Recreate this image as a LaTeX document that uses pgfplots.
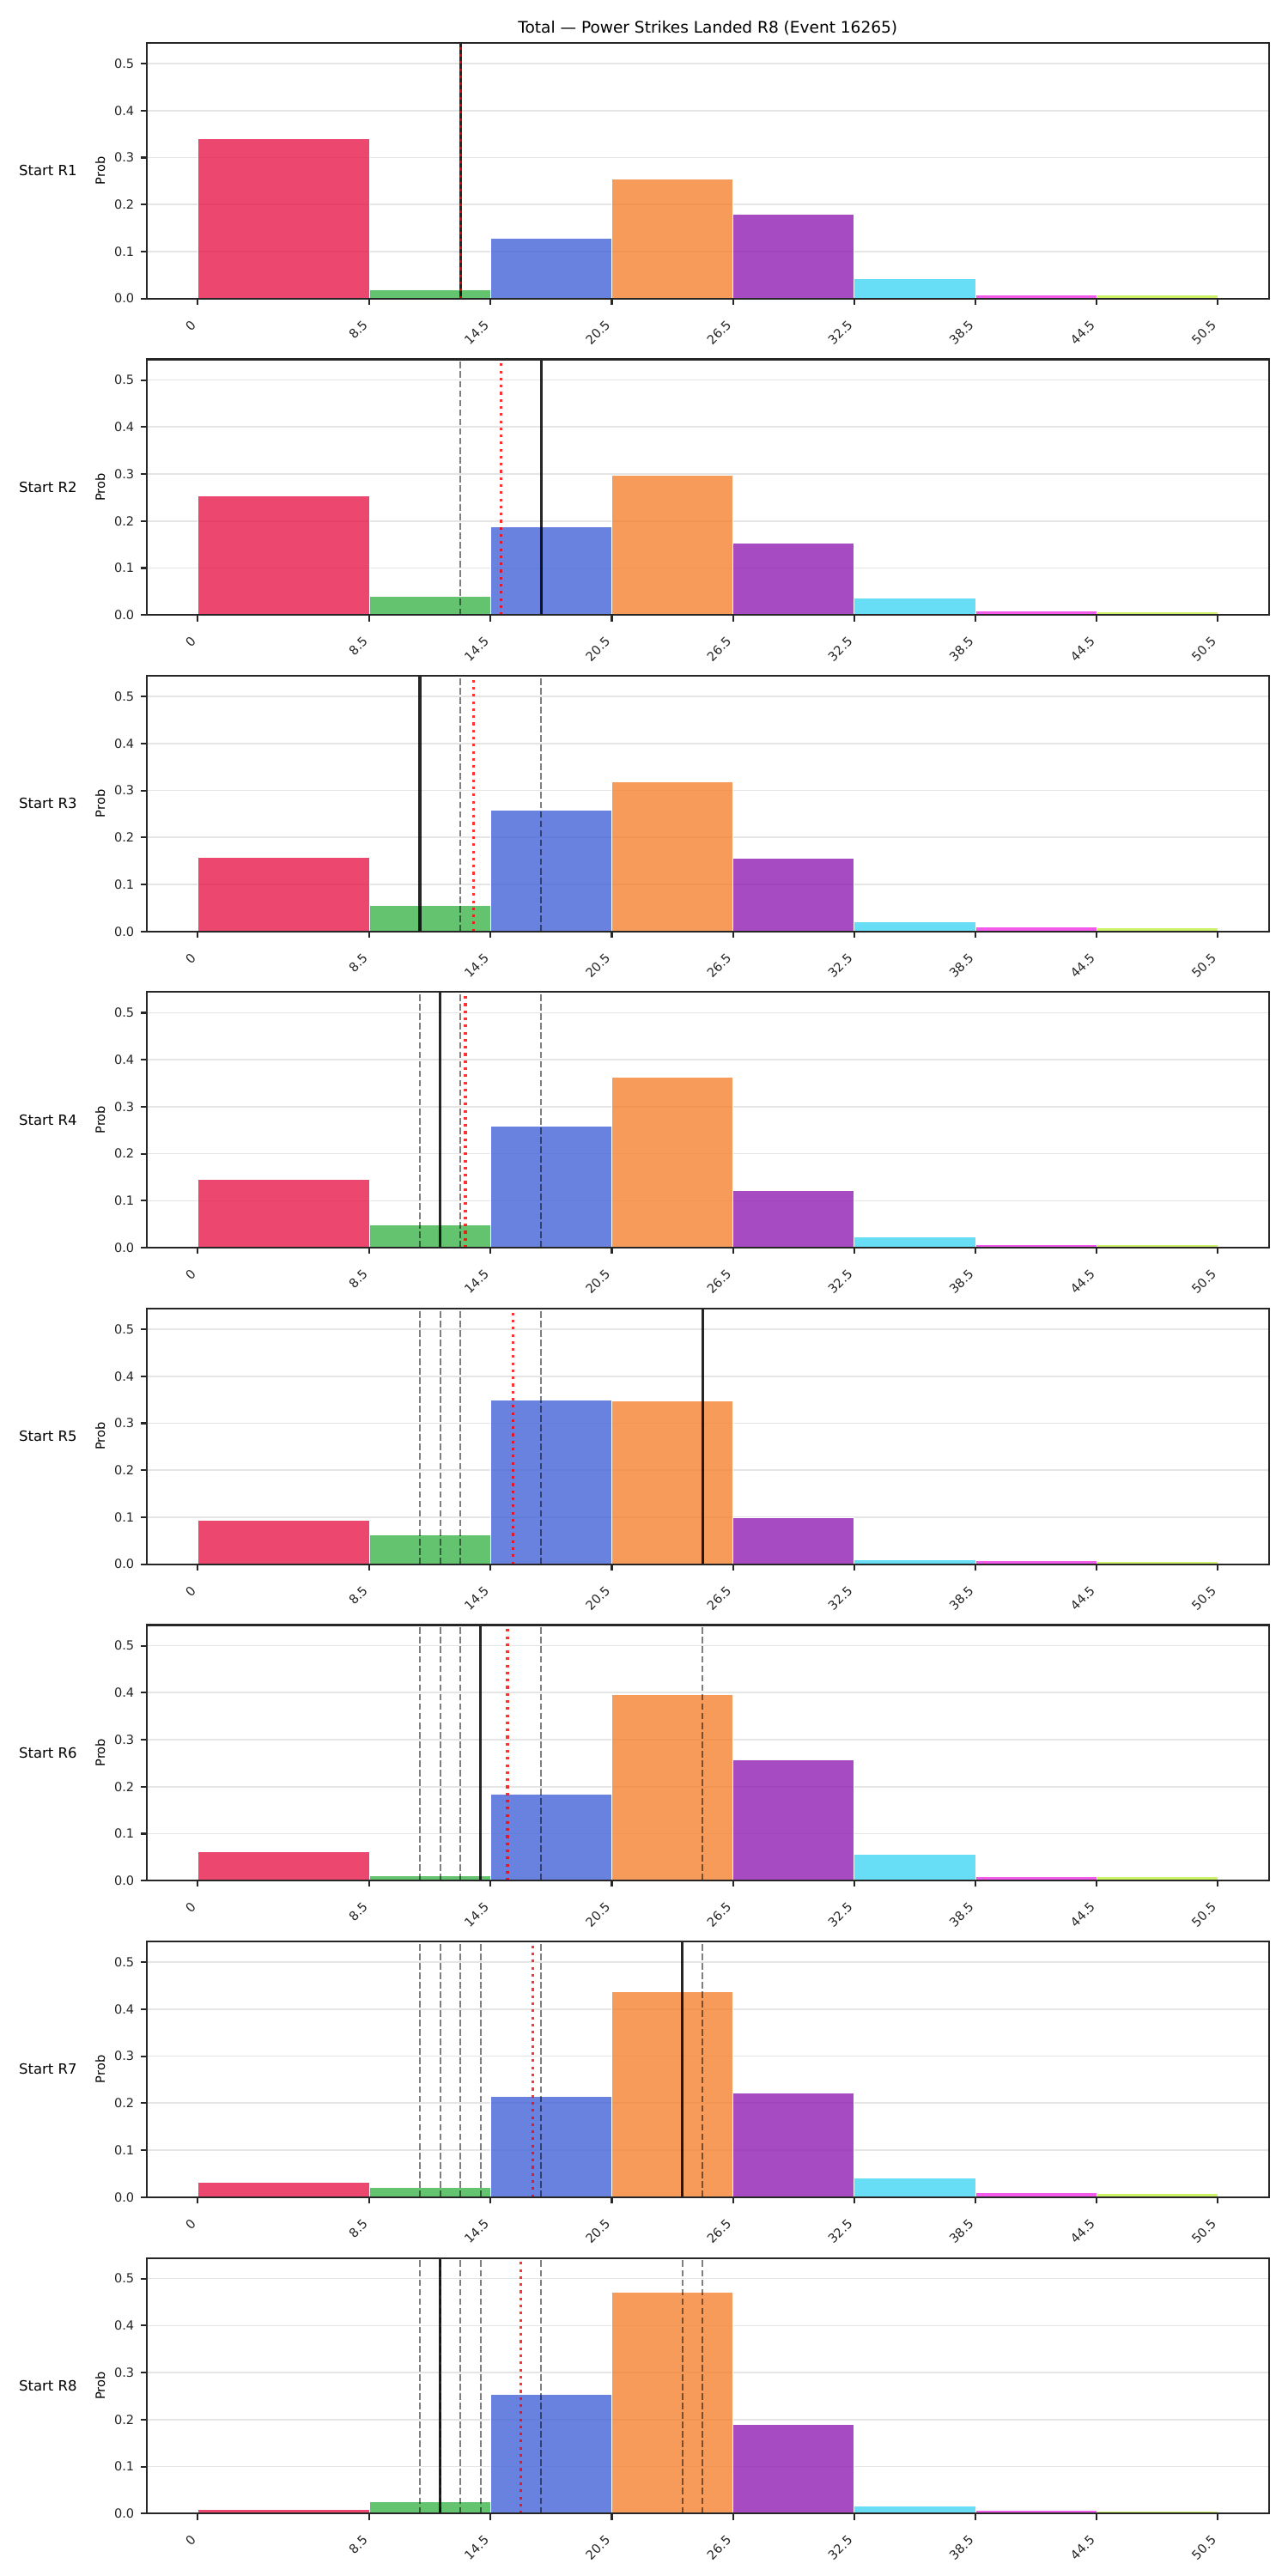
\documentclass[border=0pt]{standalone}
\usepackage{fontspec}
\setmainfont{DejaVu Sans}
\usepackage{pgfplots}
\pgfplotsset{compat=1.18}

% bin colours (bars are drawn with 80% fill opacity)
\definecolor{cRed}{RGB}{230,25,75}
\definecolor{cGreen}{RGB}{60,180,75}
\definecolor{cBlue}{RGB}{67,99,216}
\definecolor{cOrange}{RGB}{245,130,49}
\definecolor{cPurple}{RGB}{145,30,180}
\definecolor{cCyan}{RGB}{66,212,244}
\definecolor{cMagenta}{RGB}{240,50,230}
\definecolor{cLime}{RGB}{191,239,69}

\pgfkeys{/pgf/number format/assume math mode=true}

% grid below the bars, spines and ticks above them
\pgfplotsset{
  layers/gridbelow/.define layer set={
    axis background,axis grid,main,axis ticks,axis lines,axis tick labels,axis descriptions,axis foreground
  }{
    grid style={/pgfplots/on layer=axis grid},
    tick style={/pgfplots/on layer=axis ticks},
    axis line style={/pgfplots/on layer=axis lines},
    label style={/pgfplots/on layer=axis descriptions},
    legend style={/pgfplots/on layer=axis descriptions},
    title style={/pgfplots/on layer=axis descriptions},
    colorbar style={/pgfplots/on layer=axis descriptions},
    ticklabel style={/pgfplots/on layer=axis tick labels},
    axis background@ style={/pgfplots/on layer=axis background},
    3d box foreground style={/pgfplots/on layer=axis foreground},
  },
  panel/.style={
    set layers=gridbelow,
    clip mode=individual,
    scale only axis,
    width=627.3bp, height=142.9bp,
    anchor=south west,
    xmin=-2.525, xmax=53.025,
    ymin=0, ymax=0.544,
    xtick={0,8.5,14.5,20.5,26.5,32.5,38.5,44.5,50.5},
    xticklabels={0,8.5,14.5,20.5,26.5,32.5,38.5,44.5,50.5},
    ytick={0,0.1,0.2,0.3,0.4,0.5},
    yticklabel style={/pgf/number format/.cd,fixed,fixed zerofill,precision=1,/tikz/.cd},
    tick label style={font=\fontsize{7bp}{8bp}\selectfont, color=black!85},
    xticklabel style={rotate=45, anchor=east, inner sep=0pt, outer xsep=3.46bp, outer ysep=0pt,
      text height=0.76em, text depth=0.23em},
    xticklabel shift=7.5bp,
    tick pos=left,
    tick align=outside,
    major tick length=3.5bp,
    tick style={black!85, line width=1bp},
    axis line style={black!85, line width=1bp},
    ymajorgrids,
    major grid style={color=black!10, line width=0.8bp},
    ylabel={Prob},
    ylabel style={font=\fontsize{7bp}{8bp}\selectfont, at={(axis description cs:-0.0415,0.5)}, anchor=center},
  },
}

% one histogram bin: colour, lower edge, upper edge, probability
\newcommand{\bin}[4]{%
  \addplot[draw=white, line width=0.4bp, fill=#1, fill opacity=0.8]
    coordinates {(#2,0) (#2,#4) (#3,#4) (#3,0)} -- cycle;}
% the eight bins of one panel
\newcommand{\bars}[8]{%
  \bin{cRed}{0}{8.5}{#1}%
  \bin{cGreen}{8.5}{14.5}{#2}%
  \bin{cBlue}{14.5}{20.5}{#3}%
  \bin{cOrange}{20.5}{26.5}{#4}%
  \bin{cPurple}{26.5}{32.5}{#5}%
  \bin{cCyan}{32.5}{38.5}{#6}%
  \bin{cMagenta}{38.5}{44.5}{#7}%
  \bin{cLime}{44.5}{50.5}{#8}}
% earlier rounds (dashed), this round (solid), running mean (dotted)
\newcommand{\prev}[1]{\addplot[black, opacity=0.5, line width=1bp, dash pattern=on 3.7bp off 1.6bp] coordinates {(#1,0) (#1,0.544)};}
\newcommand{\actual}[1]{\addplot[black, opacity=0.85, line width=1.5bp] coordinates {(#1,0) (#1,0.544)};}
\newcommand{\avg}[1]{\addplot[red, opacity=0.8, line width=1.5bp, dash pattern=on 1.5bp off 2.475bp] coordinates {(#1,0) (#1,0.544)};}
\newcommand{\rowlabel}[1]{\node[anchor=east, inner sep=0pt, xshift=-38.8bp, font=\fontsize{7.9bp}{9bp}\selectfont] at (axis description cs:0,0.5) {#1};}

\begin{document}
\begin{tikzpicture}
\path (0,0) rectangle (720bp,1440bp);

\begin{axis}[panel, at={(82bp,1273.1bp)},
  title={Total — Power Strikes Landed R8 (Event 16265)},
  every axis title/.style={font=\fontsize{8.9bp}{10bp}\selectfont, at={(axis description cs:0.5,1)}, anchor=base, yshift=5.6bp}]
  \bars{0.341}{0.018}{0.129}{0.255}{0.180}{0.043}{0.007}{0.007}
  \actual{13}
  \avg{13}
  \rowlabel{Start R1}
\end{axis}

\begin{axis}[panel, at={(82bp,1096.2bp)}]
  \bars{0.253}{0.039}{0.187}{0.298}{0.153}{0.036}{0.008}{0.007}
  \prev{13}
  \actual{17}
  \avg{15}
  \rowlabel{Start R2}
\end{axis}

\begin{axis}[panel, at={(82bp,919.3bp)}]
  \bars{0.157}{0.055}{0.258}{0.319}{0.156}{0.021}{0.009}{0.008}
  \prev{13}\prev{17}
  \actual{11}
  \avg{13.667}
  \rowlabel{Start R3}
\end{axis}

\begin{axis}[panel, at={(82bp,742.5bp)}]
  \bars{0.146}{0.049}{0.259}{0.363}{0.122}{0.024}{0.007}{0.006}
  \prev{13}\prev{17}\prev{11}
  \actual{12}
  \avg{13.25}
  \rowlabel{Start R4}
\end{axis}

\begin{axis}[panel, at={(82bp,565.6bp)}]
  \bars{0.094}{0.063}{0.350}{0.348}{0.099}{0.009}{0.007}{0.006}
  \prev{13}\prev{17}\prev{11}\prev{12}
  \actual{25}
  \avg{15.6}
  \rowlabel{Start R5}
\end{axis}

\begin{axis}[panel, at={(82bp,388.7bp)}]
  \bars{0.061}{0.011}{0.185}{0.396}{0.257}{0.057}{0.009}{0.008}
  \prev{13}\prev{17}\prev{11}\prev{12}\prev{25}
  \actual{14}
  \avg{15.333}
  \rowlabel{Start R6}
\end{axis}

\begin{axis}[panel, at={(82bp,211.8bp)}]
  \bars{0.031}{0.020}{0.214}{0.437}{0.222}{0.040}{0.009}{0.008}
  \prev{13}\prev{17}\prev{11}\prev{12}\prev{25}\prev{14}
  \actual{24}
  \avg{16.571}
  \rowlabel{Start R7}
\end{axis}

\begin{axis}[panel, at={(82bp,34.9bp)}]
  \bars{0.008}{0.026}{0.253}{0.471}{0.190}{0.017}{0.007}{0.006}
  \prev{13}\prev{17}\prev{11}\prev{12}\prev{25}\prev{14}\prev{24}
  \actual{12}
  \avg{16}
  \rowlabel{Start R8}
\end{axis}

\end{tikzpicture}
\end{document}
